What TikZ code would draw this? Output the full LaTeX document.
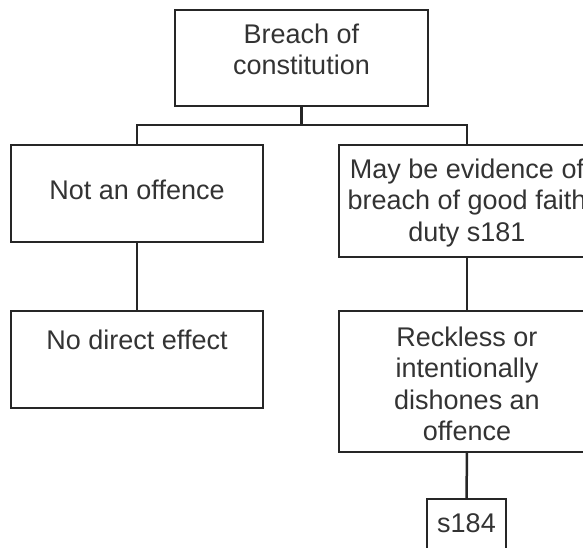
\documentclass[tikz,border=0pt]{standalone}
\usepackage{fontspec}
\setmainfont{Liberation Sans}
\begin{document}
\begin{tikzpicture}[x=1pt,y=-1pt,
  box/.style={draw=black!85, line width=2.5pt, inner sep=0pt, outer sep=0pt},
  lbl/.style={anchor=north, inner sep=0pt, align=center, text=black!80,
    font=\fontsize{27}{31.5}\selectfont},
  conn/.style={draw=black!85, line width=2.5pt}]
\useasboundingbox (0,0) rectangle (583,548);
% boxes
\node[box, minimum width=253pt, minimum height=96pt]  (top) at (301.5,58) {};
\node[box, minimum width=252pt, minimum height=97pt]  (l1)  at (137,193.5) {};
\node[box, minimum width=252pt, minimum height=97pt]  (l2)  at (137,359.5) {};
\node[box, minimum width=256pt, minimum height=112pt] (r1)  at (467,201) {};
\node[box, minimum width=256pt, minimum height=141pt] (r2)  at (467,381.5) {};
\node[box, minimum width=79pt,  minimum height=71pt]  (s)   at (466.5,534.5) {};
% texts
\node[lbl] (ttop) at (301.5,20.95) {\strut Breach of\\constitution};
\node[lbl] (tl1)  at (137,176.95) {\strut Not an offence};
\node[lbl] (tl2)  at (137,326.95) {\strut No direct effect};
\node[lbl] (tr1)  at (467,155.95) {\strut May be evidence of\\breach of good faith\\duty s181};
\node[lbl] (tr2)  at (467,323.95) {\strut Reckless or\\intentionally\\dishones an\\offence};
\node[lbl] (ts)   at (466.5,509.95) {\strut s184};
% connectors
\coordinate (j) at (301.5,125);
\draw[conn] (top.south) -- (j);
\draw[conn] (l1.north) |- (j) -| (r1.north);
\draw[conn] (l1.south) -- (l2.north);
\draw[conn] (r1.south) -- (r2.north);
\draw[conn] (r2.south) -- (s.north);
\end{tikzpicture}
\end{document}
